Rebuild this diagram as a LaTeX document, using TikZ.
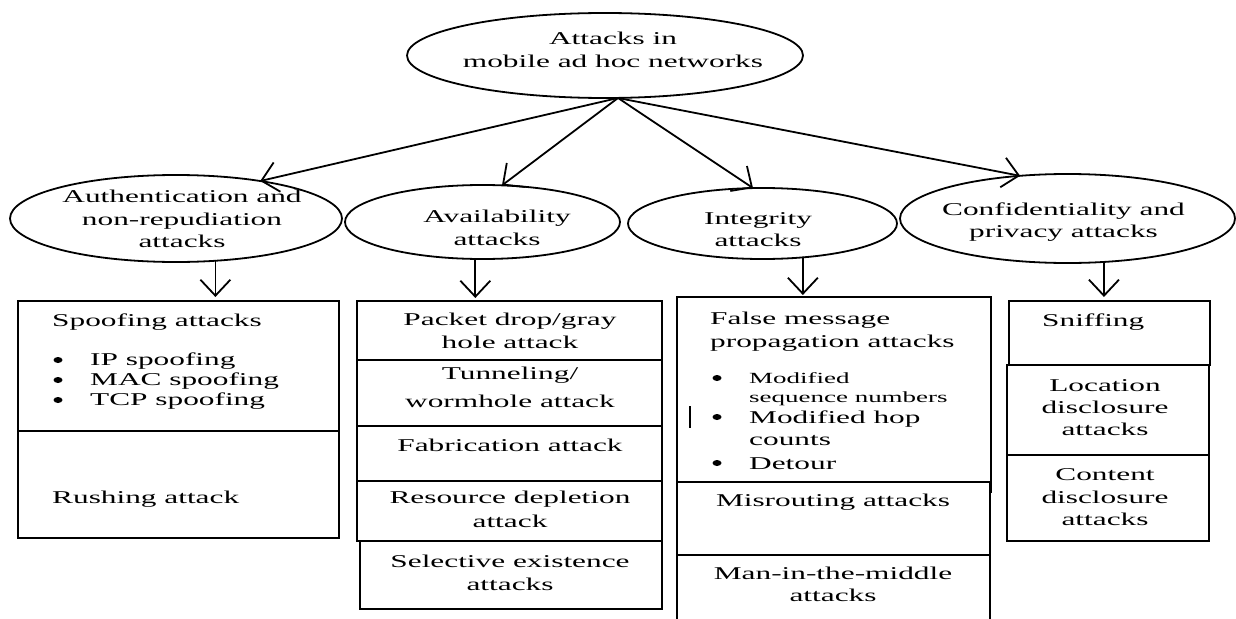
\documentclass[tikz,border=0pt]{standalone}
\usepackage{fontspec}
\setmainfont{Liberation Serif}[FakeStretch=1.74]
\usetikzlibrary{arrows.meta,shapes.geometric}
\newcommand\fsn{\fontsize{18}{22.5}\selectfont}
\newcommand\fss{\fontsize{15.5}{18}\selectfont}
\begin{document}
\begin{tikzpicture}[x=1pt,y=-1pt,
  ell/.style={draw, ellipse, line width=1.8pt, inner sep=0pt, outer sep=0pt},
  etxt/.style={align=center, inner sep=0pt, font=\fsn},
  cell/.style={draw, line width=1.2pt, anchor=north west, inner sep=0pt, outer sep=0pt},
  tcell/.style={cell, line width=2.2pt},
  t/.style={anchor=base, inner sep=0pt, font=\fsn},
  tl/.style={anchor=base west, inner sep=0pt, font=\fsn},
  tsl/.style={anchor=base west, inner sep=0pt, font=\fss},
  bul/.style={ellipse, fill=black, inner sep=0pt, minimum width=9pt, minimum height=6pt},
  arr/.style={line width=1.8pt, line cap=round, -{Straight Barb[length=16pt,width=30pt]}}
]
\useasboundingbox (0,0) rectangle (1236,618);
\fill[white] (0,0) rectangle (1236,618);

% ellipses
\node[ell, minimum width=396pt, minimum height=85pt] (top) at (605,55.5) {};
\node[etxt] (topT) at (613,49.8) {Attacks in\\mobile ad hoc networks};
\node[ell, minimum width=332pt, minimum height=87pt] (auth) at (176,218.5) {};
\node[etxt] (authT) at (182,219.3) {Authentication and\\non-repudiation\\attacks};
\node[ell, minimum width=275pt, minimum height=74pt] (avail) at (482.5,222) {};
\node[etxt] (availT) at (497,227.8) {Availability\\attacks};
\node[ell, minimum width=269pt, minimum height=71pt] (integ) at (762.5,223.5) {};
\node[etxt] (integT) at (758,229.8) {Integrity\\attacks};
\node[ell, minimum width=335pt, minimum height=89pt] (conf) at (1067.5,218.5) {};
\node[etxt] (confT) at (1063.5,222.3) {Confidentiality and\\privacy attacks};

% cells
\node[tcell, minimum width=321pt, minimum height=130pt] (a1) at (18,301) {};
\node[cell, minimum width=321pt, minimum height=107pt] (a2) at (18,431) {};

\node[cell, minimum width=305pt, minimum height=59pt] (b1) at (357,301) {};
\node[cell, minimum width=305pt, minimum height=66pt] (b2) at (357,360) {};
\node[cell, minimum width=305pt, minimum height=55pt] (b3) at (357,426) {};
\node[cell, minimum width=305pt, minimum height=60pt] (b4) at (357,481) {};
\node[cell, minimum width=302pt, minimum height=68pt] (b5) at (360,541) {};

\node[tcell, minimum width=314pt, minimum height=195pt] (c1) at (677,297) {};
\node[cell, fill=white, minimum width=313pt, minimum height=73pt] (c2) at (677,482) {};
\node[cell, minimum width=313pt, minimum height=75pt] (c3) at (677,555) {};
\draw[line width=1.5pt] (690,406) -- (690,428);

\node[cell, minimum width=201pt, minimum height=64pt] (d1) at (1009,301) {};
\node[cell, minimum width=202pt, minimum height=90pt] (d2) at (1007,365) {};
\node[cell, minimum width=202pt, minimum height=86pt] (d3) at (1007,455) {};

% connectors
\coordinate (o) at ([xshift=13pt]top.south);
\draw[arr] (o) -- (auth.24);
\draw[arr] (o) -- (avail.62);
\draw[arr] (o) -- (integ.105);
\draw[arr] (o) -- (conf.138);
\draw[arr, shorten >=4pt] (auth.-47) -- (auth.-47 |- a1.north);
\draw[arr, shorten >=3pt] (avail.-101.5) -- (avail.-101.5 |- b1.north);
\draw[arr, shorten >=2pt] (integ.-40.6) -- (integ.-40.6 |- c1.north);
\draw[arr, shorten >=4pt] (conf.-50.8) -- (conf.-50.8 |- d1.north);

% box A text
\node[tl] (a1t) at (52,326) {Spoofing attacks};
\node[bul] (a1b1) at (58,360) {};
\node[tl] (a1i1) at (90,365) {IP spoofing};
\node[bul] (a1b2) at (58,380) {};
\node[tl] (a1i2) at (90,385) {MAC spoofing};
\node[bul] (a1b3) at (58,400) {};
\node[tl] (a1i3) at (90,405) {TCP spoofing};
\node[tl] (a2t) at (52,503) {Rushing attack};

% box B text
\node[t] (b1l1) at (510,325) {Packet drop/gray};
\node[t] (b1l2) at (510,348) {hole attack};
\node[t] (b2l1) at (510,379) {Tunneling/};
\node[t] (b2l2) at (510,407) {wormhole attack};
\node[t] (b3l1) at (510,451) {Fabrication attack};
\node[t] (b4l1) at (510,503) {Resource depletion};
\node[t] (b4l2) at (510,527) {attack};
\node[t] (b5l1) at (510,567) {Selective existence};
\node[t] (b5l2) at (510,590) {attacks};

% box C text
\node[tl] (c1l1) at (710,324) {False message};
\node[tl] (c1l2) at (710,347) {propagation attacks};
\node[bul] (c1b1) at (717,378) {};
\node[tsl] (c1i1a) at (749,383) {Modified};
\node[tsl] (c1i1b) at (749,402) {sequence numbers};
\node[bul] (c1b2) at (717,417) {};
\node[tl] (c1i2a) at (749,423) {Modified hop};
\node[tl] (c1i2b) at (749,445) {counts};
\node[bul] (c1b3) at (717,463) {};
\node[tl] (c1i3) at (749,469) {Detour};
\node[t] (c2l1) at (833,506) {Misrouting attacks};
\node[t] (c3l1) at (833,579) {Man-in-the-middle};
\node[t] (c3l2) at (833,601) {attacks};

% box D text
\node[tl] (d1l1) at (1042,326) {Sniffing};
\node[t] (d2l1) at (1105,391) {Location};
\node[t] (d2l2) at (1105,413) {disclosure};
\node[t] (d2l3) at (1105,435) {attacks};
\node[t] (d3l1) at (1105,480) {Content};
\node[t] (d3l2) at (1105,503) {disclosure};
\node[t] (d3l3) at (1105,525) {attacks};
\end{tikzpicture}
\end{document}
